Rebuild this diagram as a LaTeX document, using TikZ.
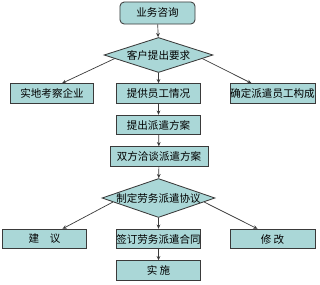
\documentclass[tikz,border=0pt]{standalone}
\usepackage{fontspec}
\usepackage{xcolor}
\usepackage{tikz}
\usetikzlibrary{arrows.meta,positioning,shapes.geometric,calc}
\newfontfamily\cjk{Noto Sans CJK SC}
\definecolor{ink}{HTML}{3A3A3A}
\definecolor{teal}{HTML}{AAD7D7}

\begin{document}
\begin{tikzpicture}[
  x=0.025cm, y=-0.025cm,
  task/.style={draw=ink, fill=teal, line width=0.6pt, inner sep=0pt, minimum width=2.08cm, minimum height=0.49cm, font=\cjk\fontsize{7.5}{9}\selectfont},
  choice/.style={diamond, draw=ink, fill=teal, line width=0.6pt, inner sep=0pt, aspect=2.9, minimum width=2.72cm, minimum height=0.9cm, font=\cjk\fontsize{7.5}{9}\selectfont},
  flow/.style={draw=ink, line width=0.5pt, -{Stealth[length=3pt,width=2.6pt]}}
]
  \useasboundingbox (0,0) rectangle (320,284);
  \node[task, rounded corners=3pt, minimum width=1.875cm, minimum height=0.55cm] (consult) at (157.5,13) {业务咨询};
  \node[choice, minimum height=0.875cm] (req) at (158.5,55) {客户提出要求};
  \node[task] (visit) at (52,93.5) {实地考察企业};
  \node[task] (provide) at (158.5,93.5) {提供员工情况};
  \node[task, minimum width=2.125cm] (confirm) at (272.5,93.5) {确定派遣员工构成};
  \node[task] (plan) at (158.5,125) {提出派遣方案};
  \node[task, minimum width=2.45cm] (talk) at (159,156.5) {双方洽谈派遣方案};
  \node[choice, minimum height=0.95cm] (agree) at (158.5,198) {制定劳务派遣协议};
  \node[task] (advise) at (44.5,239) {建\quad 议};
  \node[task] (sign) at (158.5,239) {签订劳务派遣合同};
  \node[task, minimum width=2.125cm] (modify) at (272.5,239) {修\ 改};
  \node[task] (act) at (158.5,270.5) {实\ 施};

  \draw[flow] (consult) -- (req);
  \draw[flow] ($(req.west)!0.2!(req.south)$) -- ($(visit.north)+(10,0)$);
  \draw[flow] (req) -- (provide);
  \draw[flow] ($(req.east)!0.2!(req.south)$) -- ($(confirm.north)+(-21,0)$);
  \draw[flow] (provide) -- (plan);
  \draw[flow] (plan) -- (talk);
  \draw[flow] (talk) -- (agree);
  \draw[flow] ($(agree.west)!0.2!(agree.south)$) -- ($(advise.north)+(18,0)$);
  \draw[flow] (agree) -- (sign);
  \draw[flow] ($(agree.east)!0.2!(agree.south)$) -- ($(modify.north)+(-15,0)$);
  \draw[flow] (sign) -- (act);
\end{tikzpicture}
\end{document}
